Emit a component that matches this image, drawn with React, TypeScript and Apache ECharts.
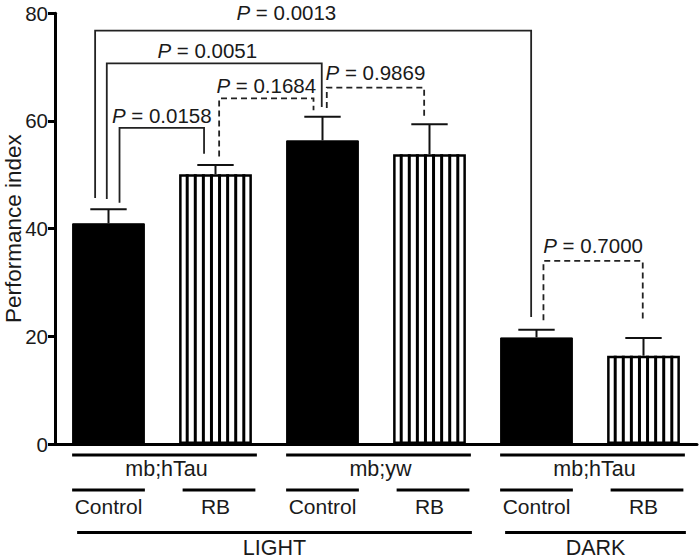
import React, { useEffect, useRef } from 'react';
import * as echarts from 'echarts';

const categories = [
  'LIGHT mb;hTau Control',
  'LIGHT mb;hTau RB',
  'LIGHT mb;yw Control',
  'LIGHT mb;yw RB',
  'DARK mb;hTau Control',
  'DARK mb;hTau RB',
];
const treatments = ['Control', 'RB', 'Control', 'RB', 'Control', 'RB'];
const means = [41.0, 50.1, 56.4, 53.8, 19.8, 16.4];
const sems = [2.6, 1.7, 4.4, 5.6, 1.4, 3.3];
const genotypeGroups = [
  { label: 'mb;hTau', from: 0, to: 1 },
  { label: 'mb;yw', from: 2, to: 3 },
  { label: 'mb;hTau', from: 4, to: 5 },
];
const conditionGroups = [
  { label: 'LIGHT', from: 0, to: 3 },
  { label: 'DARK', from: 4, to: 5 },
];
const yTicks = [0, 20, 40, 60, 80];

// pairwise comparisons: bars, P value, bracket height, leg ends (in data units)
const comparisons = [
  { from: 0, to: 4, p: '0.0013', top: 76.8, leftEnd: 45.7, rightEnd: 23.6, dashed: false },
  { from: 0, to: 2, p: '0.0051', top: 70.7, leftEnd: 45.5, rightEnd: 62.6, dashed: false },
  { from: 0, to: 1, p: '0.0158', top: 58.7, leftEnd: 44.8, rightEnd: 53.9, dashed: false },
  { from: 1, to: 2, p: '0.1684', top: 64.2, leftEnd: 53.4, rightEnd: 62.0, dashed: true },
  { from: 2, to: 3, p: '0.9869', top: 66.2, leftEnd: 62.4, rightEnd: 60.7, dashed: true },
  { from: 4, to: 5, p: '0.7000', top: 34.0, leftEnd: 23.0, rightEnd: 23.0, dashed: true },
];
// leg / label offsets: dl, dr, dt as fractions of a category band; lift in px
const bracketLayout = [
  { dl: -0.125, dr: -0.05, dt: -0.25, lift: 18 },
  { dl: -0.016, dr: -0.007, dt: -0.065, lift: 13 },
  { dl: 0.103, dr: -0.107, dt: 0, lift: 12 },
  { dl: 0.034, dr: -0.084, dt: 0, lift: 13 },
  { dl: 0.04, dr: -0.05, dt: 0, lift: 15 },
  { dl: 0.065, dr: -0.007, dt: 0, lift: 15 },
];

const FONT = '"Liberation Sans", Arial, Helvetica, sans-serif';
const INK = '#1a1a1a';
const BAR_FRAC = 0.68;

export default function App() {
  const ref = useRef<HTMLDivElement>(null);
  useEffect(() => {
    if (!ref.current) return;
    const chart = echarts.init(ref.current, null, { renderer: 'svg' });

    const option: any = {
      animation: false,
      backgroundColor: '#ffffff',
      grid: { left: 55, right: 3, top: 13.3, bottom: 116, containLabel: false, outerBoundsMode: 'none' },
      xAxis: {
        type: 'category',
        data: categories,
        axisLine: { show: true, lineStyle: { color: '#000', width: 3 } },
        axisTick: { show: false },
        axisLabel: { show: false },
        splitLine: { show: false },
      },
      yAxis: {
        type: 'value',
        min: yTicks[0],
        max: yTicks[yTicks.length - 1],
        interval: 20,
        axisLine: { show: true, lineStyle: { color: '#000', width: 3 } },
        axisTick: { show: true, length: 7, lineStyle: { color: '#000', width: 3 } },
        axisLabel: { margin: 7, fontSize: 20.5, color: INK, fontFamily: FONT },
        splitLine: { show: false },
        name: 'Performance index',
        nameLocation: 'middle',
        nameGap: 30,
        nameMoveOverlap: false,
        nameTextStyle: { fontSize: 22.5, color: INK, fontFamily: FONT },
      },
      series: [
        {
          type: 'bar',
          barWidth: BAR_FRAC * 100 + '%',
          z: 2,
          silent: true,
          data: means.map((v, i) => ({
            value: v,
            itemStyle:
              treatments[i] === 'RB'
                ? { color: '#fff', borderColor: '#000', borderWidth: 2.5 }
                : { color: '#000', borderColor: '#000', borderWidth: 1 },
          })),
        },
        {
          // vertical stripes inside RB bars
          type: 'custom',
          silent: true,
          z: 3,
          data: means.map((v, i) => [i, v]).filter((d) => treatments[d[0]] === 'RB'),
          renderItem: (params: any, api: any) => {
            const i = api.value(0);
            const v = api.value(1);
            const base = api.coord([i, 0]);
            const top = api.coord([i, v]);
            const band = api.size([1, 0])[0];
            const w = band * BAR_FRAC;
            const left = base[0] - w / 2;
            const children: any[] = [];
            for (let k = 1; k <= 8; k++) {
              const x = left + (k * w) / 9;
              children.push({
                type: 'line',
                shape: { x1: x, y1: top[1], x2: x, y2: base[1] },
                style: { stroke: '#000', lineWidth: 3 },
              });
            }
            return { type: 'group', children };
          },
        },
        {
          // error bars (upper only)
          type: 'custom',
          silent: true,
          z: 4,
          data: means.map((v, i) => [i, v, sems[i]]),
          renderItem: (params: any, api: any) => {
            const i = api.value(0);
            const m = api.value(1);
            const s = api.value(2);
            const p0 = api.coord([i, m]);
            const p1 = api.coord([i, m + s]);
            const band = api.size([1, 0])[0];
            const hw = band * 0.17;
            return {
              type: 'group',
              children: [
                { type: 'line', shape: { x1: p0[0], y1: p0[1], x2: p1[0], y2: p1[1] }, style: { stroke: '#111', lineWidth: 2 } },
                { type: 'line', shape: { x1: p1[0] - hw, y1: p1[1], x2: p1[0] + hw, y2: p1[1] }, style: { stroke: '#111', lineWidth: 2 } },
              ],
            };
          },
        },
        {
          // significance brackets
          type: 'custom',
          silent: true,
          z: 5,
          clip: false,
          data: comparisons.map((c) => [c.from, c.top, c.to, c.leftEnd, c.rightEnd]),
          renderItem: (params: any, api: any) => {
            const k = params.dataIndex;
            const c = comparisons[k];
            const L = bracketLayout[k];
            const band = api.size([1, 0])[0];
            const xl = api.coord([c.from, c.top])[0] + L.dl * band;
            const xr = api.coord([c.to, c.top])[0] + L.dr * band;
            const yt = api.coord([c.from, c.top])[1];
            const yl = api.coord([c.from, c.leftEnd])[1];
            const yr = api.coord([c.to, c.rightEnd])[1];
            const lineStyle: any = { stroke: '#222', lineWidth: 1.8, fill: null };
            if (c.dashed) lineStyle.lineDash = [6, 4];
            return {
              type: 'group',
              children: [
                {
                  type: 'polyline',
                  shape: { points: [[xl, yl], [xl, yt], [xr, yt], [xr, yr]] },
                  style: lineStyle,
                },
                {
                  type: 'text',
                  style: {
                    text: '{i|P} = ' + c.p,
                    x: (xl + xr) / 2 + L.dt * band,
                    y: yt - L.lift,
                    align: 'center',
                    verticalAlign: 'middle',
                    fill: INK,
                    fontSize: 20.5,
                    fontFamily: FONT,
                    rich: { i: { fontStyle: 'italic', fontSize: 20.5, fontFamily: FONT, fill: INK } },
                  },
                },
              ],
            };
          },
        },
        {
          // treatment labels
          type: 'custom',
          silent: true,
          clip: false,
          data: treatments.map((t, i) => [i, 0]),
          renderItem: (params: any, api: any) => {
            const i = params.dataIndex;
            const p = api.coord([i, 0]);
            const band = api.size([1, 0])[0];
            const w = band * BAR_FRAC;
            const shift = treatments[i] === 'RB' ? 3.5 : 0;
            return {
              type: 'group',
              children: [
                { type: 'line', shape: { x1: p[0] - w / 2 + shift, y1: p[1] + 46, x2: p[0] + w / 2 + shift, y2: p[1] + 46 }, style: { stroke: '#000', lineWidth: 3 } },
                { type: 'text', style: { text: treatments[i], x: p[0], y: p[1] + 62, align: 'center', verticalAlign: 'middle', fill: INK, fontSize: 21, fontFamily: FONT } },
              ],
            };
          },
        },
        {
          // genotype labels
          type: 'custom',
          silent: true,
          clip: false,
          data: genotypeGroups.map((g) => [g.from, 0, g.to]),
          renderItem: (params: any, api: any) => {
            const g = genotypeGroups[params.dataIndex];
            const a = api.coord([g.from, 0]);
            const b = api.coord([g.to, 0]);
            const band = api.size([1, 0])[0];
            const w = band * BAR_FRAC;
            const x1 = a[0] - w / 2;
            const x2 = b[0] + w / 2 + 5;
            return {
              type: 'group',
              children: [
                { type: 'line', shape: { x1, y1: a[1] + 11, x2, y2: a[1] + 11 }, style: { stroke: '#000', lineWidth: 3 } },
                { type: 'text', style: { text: g.label, x: (x1 + x2) / 2 + 2, y: a[1] + 25, align: 'center', verticalAlign: 'middle', fill: INK, fontSize: 21.5, fontFamily: FONT } },
              ],
            };
          },
        },
        {
          // condition labels
          type: 'custom',
          silent: true,
          clip: false,
          data: conditionGroups.map((g) => [g.from, 0, g.to]),
          renderItem: (params: any, api: any) => {
            const g = conditionGroups[params.dataIndex];
            const a = api.coord([g.from, 0]);
            const b = api.coord([g.to, 0]);
            const band = api.size([1, 0])[0];
            const w = band * BAR_FRAC;
            const x1 = a[0] - w / 2 + 5;
            const x2 = b[0] + w / 2 + 6;
            return {
              type: 'group',
              children: [
                { type: 'line', shape: { x1, y1: a[1] + 88.5, x2, y2: a[1] + 88.5 }, style: { stroke: '#000', lineWidth: 3 } },
                { type: 'text', style: { text: g.label, x: (x1 + x2) / 2, y: a[1] + 104, align: 'center', verticalAlign: 'middle', fill: INK, fontSize: 21.5, fontFamily: FONT } },
              ],
            };
          },
        },
      ],
    };
    chart.setOption(option);
    return () => chart.dispose();
  }, []);
  return (
    <div
      ref={ref}
      style={{ position: 'fixed', left: 0, top: 0, width: 700, height: 560, background: '#fff' }}
    />
  );
}
